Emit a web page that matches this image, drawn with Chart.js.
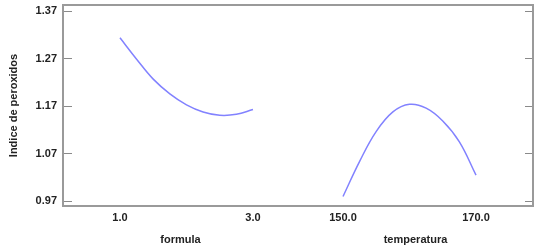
<!DOCTYPE html>
<html>
<head>
<meta charset="utf-8">
<script src="https://cdn.jsdelivr.net/npm/chart.js@4/dist/chart.umd.min.js"></script>
<style>
  html, body { margin: 0; padding: 0; background: #fff; }
  canvas { display: block; }
</style>
</head>
<body>
<canvas id="effectsChart" width="539" height="247"></canvas>
<script>
// values
const formulaLevels = [1.0, 1.25, 1.5, 1.75, 2.0, 2.25, 2.5, 2.75, 3.0];
const formulaValues = [1.314, 1.269, 1.227, 1.196, 1.173, 1.158, 1.151, 1.153, 1.163];

const tempLevels = [150, 152.5, 155, 157.5, 160, 162.5, 165, 167.5, 170];
const tempValues = [0.980, 1.054, 1.117, 1.158, 1.174, 1.166, 1.139, 1.095, 1.025];

const yTicks = [0.97, 1.07, 1.17, 1.27, 1.37];
const formulaTicks = [1.0, 3.0];
const tempTicks = [150.0, 170.0];

const yTitle = 'Indice de peroxidos';
const formulaTitle = 'formula';
const tempTitle = 'temperatura';

const lineColor = '#8282ff';
const frameColor = '#9a9a9a';
const textColor = '#222';
const font = { family: '"Liberation Sans", Arial, sans-serif', size: 11, weight: 'bold' };

function toPoints(xs, ys) {
  return xs.map((x, i) => ({ x, y: ys[i] }));
}

function fixedTicks(values) {
  return (scale) => {
    scale.ticks = values.map((value) => ({ value }));
  };
}

// force a box size and drop the label overflow padding chart.js adds
function boxSize(width, height) {
  return (s) => {
    if (width !== null) s.width = width;
    if (height !== null) s.height = height;
    s.paddingTop = 0;
    s.paddingBottom = 0;
    s.paddingLeft = 0;
    s.paddingRight = 0;
  };
}

function bottomAxis(min, max, ticks, title) {
  return {
    type: 'linear',
    position: 'bottom',
    stack: 'panels',
    stackWeight: 1,
    min,
    max,
    afterBuildTicks: fixedTicks(ticks),
    afterFit: boxSize(null, 41),
    grid: { display: false, drawTicks: false },
    border: { display: true, color: frameColor, width: 2 },
    ticks: {
      color: textColor,
      font,
      padding: 5,
      maxRotation: 0,
      callback: (v) => Number(v).toFixed(1),
    },
    title: { display: true, text: title, color: textColor, font, padding: { top: 2, bottom: 0 } },
  };
}

function curve(label, xs, ys, axisId) {
  return {
    label,
    data: toPoints(xs, ys),
    xAxisID: axisId,
    yAxisID: 'y',
    borderColor: lineColor,
    borderWidth: 1.5,
    pointRadius: 0,
    tension: 0.4,
    fill: false,
  };
}

new Chart(document.getElementById('effectsChart'), {
  type: 'line',
  data: {
    datasets: [
      curve(formulaTitle, formulaLevels, formulaValues, 'xFormula'),
      curve(tempTitle, tempLevels, tempValues, 'xTemp'),
    ],
  },
  options: {
    responsive: false,
    animation: false,
    layout: { padding: 0 },
    plugins: {
      legend: { display: false },
      tooltip: { enabled: false },
    },
    scales: {
      xFormula: bottomAxis(0.143, 3.677, formulaTicks, formulaTitle),
      xTemp: bottomAxis(143.23, 178.57, tempTicks, tempTitle),
      xTop: {
        type: 'linear',
        position: 'top',
        afterFit: boxSize(null, 5),
        grid: { display: false, drawTicks: false },
        border: { display: true, color: frameColor, width: 2 },
        ticks: { display: false },
      },
      y: {
        type: 'linear',
        position: 'left',
        min: 0.96,
        max: 1.383,
        afterBuildTicks: fixedTicks(yTicks),
        afterFit: boxSize(63, null),
        grid: { display: true, drawOnChartArea: false, drawTicks: true, tickLength: -9, color: '#8a8a8a', lineWidth: 1 },
        border: { display: true, color: frameColor, width: 2 },
        ticks: {
          color: textColor,
          font,
          padding: 15,
          callback: (v) => Number(v).toFixed(2),
        },
        title: { display: true, text: yTitle, color: textColor, font, padding: { top: 7, bottom: 0 } },
      },
      yRight: {
        type: 'linear',
        position: 'right',
        min: 0.96,
        max: 1.383,
        afterBuildTicks: fixedTicks(yTicks),
        afterFit: boxSize(6, null),
        grid: { display: true, drawOnChartArea: false, drawTicks: true, tickLength: -8, color: '#8a8a8a', lineWidth: 1 },
        border: { display: true, color: frameColor, width: 2 },
        ticks: { display: false },
      },
    },
  },
});
</script>
</body>
</html>
